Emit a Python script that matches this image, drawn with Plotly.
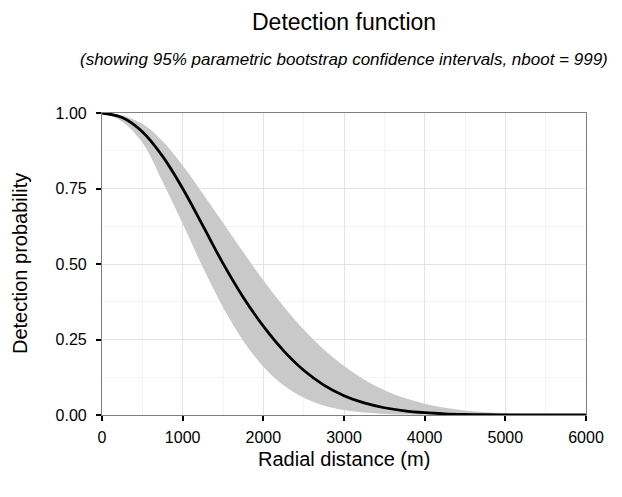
import plotly.graph_objects as go

distance = [0, 250, 500, 750, 1000, 1250, 1500, 1750, 2000, 2250, 2500, 2750, 3000,
            3250, 3500, 3750, 4000, 4250, 4500, 4750, 5000, 5250, 5500, 5750, 6000]
detect_mean = [1.000, 0.985, 0.938, 0.857, 0.750, 0.627, 0.502, 0.390, 0.294, 0.213, 0.148,
               0.099, 0.064, 0.040, 0.024, 0.0137, 0.0076, 0.0040, 0.0021, 0.0010, 0.0005,
               0.0002, 0.0001, 0.0, 0.0]
ci_upper = [1.000, 0.992, 0.964, 0.907, 0.826, 0.733, 0.637, 0.540, 0.446, 0.360, 0.283,
            0.217, 0.162, 0.117, 0.082, 0.056, 0.037, 0.024, 0.015, 0.0093, 0.0056,
            0.0033, 0.0019, 0.0010, 0.0005]
ci_lower = [1.000, 0.972, 0.902, 0.773, 0.633, 0.489, 0.357, 0.246, 0.160, 0.0985, 0.0572,
            0.0313, 0.0162, 0.0079, 0.0037, 0.0016, 0.0007, 0.0003, 0.0001, 0.0, 0.0,
            0.0, 0.0, 0.0, 0.0]
x_ticks = [0, 1000, 2000, 3000, 4000, 5000, 6000]
x_ticktext = ["0", "1000", "2000", "3000", "4000", "5000", "6000"]
y_ticks = [0, 0.25, 0.5, 0.75, 1.0]
y_ticktext = ["0.00", "0.25", "0.50", "0.75", "1.00"]

FONT = "Liberation Sans, Arial, Helvetica, sans-serif"

fig = go.Figure()
fig.add_trace(go.Scatter(x=distance, y=ci_lower, mode="lines", line=dict(width=0, shape="spline"),
                         showlegend=False, hoverinfo="skip"))
fig.add_trace(go.Scatter(x=distance, y=ci_upper, mode="lines", line=dict(width=0, shape="spline"),
                         fill="tonexty", fillcolor="rgb(201,201,201)", showlegend=False, hoverinfo="skip"))
fig.add_trace(go.Scatter(x=distance, y=detect_mean, mode="lines",
                         line=dict(color="black", width=2.8, shape="spline"), showlegend=False))

fig.update_layout(
    width=614, height=489,
    margin=dict(l=94, r=36, t=105, b=82),
    paper_bgcolor="white", plot_bgcolor="white",
    font=dict(family=FONT, color="black"),
    annotations=[
        dict(text="Detection function", x=0.5, y=1.3, xref="paper", yref="paper", showarrow=False,
             font=dict(size=23, family=FONT, color="black"), xanchor="center", yanchor="middle"),
        dict(text="<i>(showing 95% parametric bootstrap confidence intervals, nboot = 999)</i>",
             x=0.5, y=1.1755, xref="paper", yref="paper", showarrow=False,
             font=dict(size=17, family=FONT, color="black"), xanchor="center", yanchor="middle"),
        dict(text="Radial distance (m)", x=0.5, y=-0.1457, xref="paper", yref="paper", showarrow=False,
             font=dict(size=20, family=FONT, color="black"), xanchor="center", yanchor="middle"),
        dict(text="Detection probability", x=-0.1694, y=0.5, xref="paper", yref="paper", showarrow=False,
             textangle=-90, font=dict(size=20, family=FONT, color="black"),
             xanchor="center", yanchor="middle"),
    ],
)

fig.update_xaxes(
    range=[0, 6000], tickvals=x_ticks, ticktext=x_ticktext,
    showline=True, linecolor="rgb(127,127,127)", linewidth=1.2, mirror=True,
    ticks="outside", ticklen=5, tickwidth=2.2, tickcolor="black",
    tickfont=dict(size=16, family=FONT, color="black"), ticklabelstandoff=3,
    showgrid=True, gridcolor="rgb(228,228,228)", gridwidth=1,
    minor=dict(dtick=500, showgrid=True, gridcolor="rgb(244,244,244)", gridwidth=1, ticks=""),
    zeroline=False, automargin=False,
)
fig.update_yaxes(
    range=[0, 1], tickvals=y_ticks, ticktext=y_ticktext,
    showline=True, linecolor="rgb(127,127,127)", linewidth=1.2, mirror=True,
    ticks="outside", ticklen=5, tickwidth=2.2, tickcolor="black",
    tickfont=dict(size=16, family=FONT, color="black"), ticklabelstandoff=6,
    showgrid=True, gridcolor="rgb(228,228,228)", gridwidth=1,
    minor=dict(dtick=0.125, showgrid=True, gridcolor="rgb(244,244,244)", gridwidth=1, ticks=""),
    zeroline=False, automargin=False,
)

fig.write_html("out.html")
